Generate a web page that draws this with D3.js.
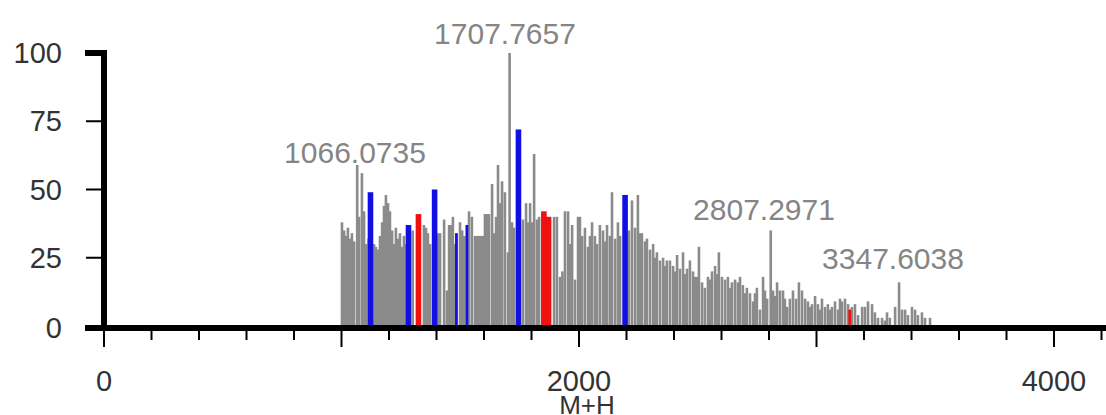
<!DOCTYPE html>
<html>
<head>
<meta charset="utf-8">
<script src="https://cdn.jsdelivr.net/npm/d3@7"></script>
<style>
  body { margin: 0; background: #fff; }
  svg { display: block; }
</style>
</head>
<body>
<div id="chart"></div>
<script>
var w = 1106;
var h = 415;

// gray peaks: m/z and relative intensity
var grayMz = [1002, 1011, 1019, 1027, 1036, 1044, 1053, 1066.07, 1074, 1086, 1095, 1103, 1114,
  1137, 1145, 1154, 1162, 1171, 1179, 1187, 1196, 1204, 1213, 1221, 1229, 1238, 1246, 1255, 1263, 1272,
  1300, 1347, 1356, 1364, 1373, 1406, 1415, 1432, 1444, 1453, 1461, 1469, 1478, 1499, 1508, 1517,
  1537, 1549, 1562, 1570, 1579, 1587, 1596, 1604, 1613, 1621, 1634, 1642, 1651, 1659, 1667, 1676,
  1688, 1701, 1707.77, 1718, 1726, 1764, 1777, 1785, 1794, 1802, 1811, 1823, 1832, 1895, 1907, 1920,
  1930, 1941, 1954, 1962, 1971, 1983, 1996, 2004, 2013, 2025, 2038, 2046, 2055, 2067, 2076, 2088,
  2101, 2109, 2118, 2130, 2139, 2152, 2164, 2173, 2210, 2223, 2236, 2248, 2257, 2265, 2278, 2286,
  2299, 2312, 2320, 2328, 2341, 2354, 2362, 2370, 2383, 2396, 2404, 2413, 2425, 2438, 2446, 2455,
  2467, 2480, 2488, 2497, 2505, 2518, 2530, 2543, 2552, 2560, 2573, 2581, 2589, 2602, 2615, 2627,
  2636, 2644, 2657, 2669, 2678, 2690, 2699, 2707, 2720, 2733, 2741, 2749, 2762, 2775, 2783, 2792,
  2807.30, 2817, 2825, 2834, 2846, 2859, 2867, 2876, 2888, 2901, 2914, 2926, 2939, 2952, 2964, 2973,
  2981, 2994, 3006, 3015, 3023, 3036, 3048, 3057, 3065, 3078, 3091, 3099, 3107, 3120, 3133, 3149,
  3162, 3175, 3192, 3204, 3217, 3234, 3246, 3259, 3276, 3288, 3297, 3309, 3331, 3347.60, 3360, 3373,
  3385, 3402, 3415, 3427, 3444, 3457, 3478];
var grayInt = [38, 35, 33, 36, 32, 34, 31, 59, 40, 56, 42, 30, 32,
  30, 29, 28, 33, 38, 44, 48, 45, 42, 35, 30, 36, 32, 34, 29, 33, 30,
  35, 37, 36, 34, 30, 34, 34, 39, 13, 37, 37, 40, 30, 38, 35, 33,
  42, 40, 33, 33, 33, 33, 33, 41, 41, 41, 52, 34, 40, 59, 45, 53,
  49, 27, 100, 38, 36, 39, 45, 38, 45, 38, 63, 39, 40, 40, 40, 18,
  20, 42, 42, 30, 37, 17, 40, 40, 33, 36, 29, 33, 38, 33, 30, 37,
  35, 31, 37, 33, 49, 32, 38, 33, 35, 46, 36, 48, 34, 34, 31, 32,
  28, 30, 25, 27, 24, 25, 22, 24, 24, 22, 20, 26, 21, 27, 19, 21,
  24, 20, 18, 18, 29, 16, 14, 18, 17, 20, 22, 19, 27, 18, 17, 18,
  14, 16, 17, 16, 18, 15, 12, 14, 12, 9, 12, 14, 6, 18, 13, 10,
  35, 13, 11, 16, 13, 13, 10, 7, 10, 13, 10, 16, 13, 10, 9, 7,
  8, 11, 8, 6, 10, 7, 8, 6, 7, 9, 6, 10, 9, 10, 8, 7,
  8, 4, 7, 7, 9, 8, 5, 3, 3, 2, 5, 3, 7, 16, 6, 6,
  4, 7, 6, 4, 5, 3, 3];

// matched peaks
var blueMz = [1122, 1282, 1392, 1484, 1528, 1745, 2194];
var blueInt = [49, 37, 50, 34, 37, 72, 48];
var blueWide = [true, true, true, false, false, true, true];
var redMz = [1324, 1852, 1872, 3140];
var redInt = [41, 42, 40, 6];
var redWide = [true, true, true, false];

var peakLabels = ['1066.0735', '1707.7657', '2807.2971', '3347.6038'];

var yTicks = [0, 25, 50, 75, 100];
var xMinor = d3.range(0, 4201, 200);
var xMajor = [0, 1000, 2000, 3000, 4000];
var xLabels = { 0: '0', 2000: '2000', 4000: '4000' };

var x = d3.scaleLinear().domain([0, 4000]).range([104, 1054]);
var y = d3.scaleLinear().domain([0, 100]).range([326, 53]);

var svg = d3.select('#chart')
  .append('svg')
  .attr('width', w)
  .attr('height', h)
  .style('font-family', '"Liberation Sans", Arial, sans-serif');

var grayData = grayMz.map(function (m, i) { return { mz: m, v: grayInt[i] }; });
var blueData = blueMz.map(function (m, i) { return { mz: m, v: blueInt[i], wide: blueWide[i] }; });
var redData = redMz.map(function (m, i) { return { mz: m, v: redInt[i], wide: redWide[i] }; });

svg.selectAll('rect.gray')
  .data(grayData)
  .enter()
  .append('rect')
  .attr('class', 'gray')
  .attr('x', function (d) { return x(d.mz) - 1.3; })
  .attr('width', 2.6)
  .attr('y', function (d) { return y(d.v); })
  .attr('height', function (d) { return y(0) - y(d.v); })
  .attr('fill', '#8b8b8b');

function colored(data, cls, color) {
  svg.selectAll('rect.' + cls)
    .data(data)
    .enter()
    .append('rect')
    .attr('class', cls)
    .attr('x', function (d) { return x(d.mz) - (d.wide ? 2.8 : 1.4); })
    .attr('width', function (d) { return d.wide ? 5.6 : 2.8; })
    .attr('y', function (d) { return y(d.v); })
    .attr('height', function (d) { return y(0) - y(d.v); })
    .attr('fill', color);
}
colored(blueData, 'blue', '#1010e6');
colored(redData, 'red', '#f01010');

// peak annotations
var labelPos = [[355, 163], [505, 44], [764, 220], [893, 269]];
svg.selectAll('text.peak')
  .data(peakLabels)
  .enter()
  .append('text')
  .attr('class', 'peak')
  .attr('x', function (d, i) { return labelPos[i][0]; })
  .attr('y', function (d, i) { return labelPos[i][1]; })
  .attr('text-anchor', 'middle')
  .attr('fill', '#858585')
  .style('font-size', '30px')
  .text(function (d) { return d; });

// x axis
var axisY = 328;
svg.append('line')
  .attr('x1', 85).attr('x2', w)
  .attr('y1', axisY).attr('y2', axisY)
  .attr('stroke', '#000').attr('stroke-width', 6);

svg.selectAll('line.xminor')
  .data(xMinor)
  .enter()
  .append('line')
  .attr('class', 'xminor')
  .attr('x1', function (d) { return x(d); })
  .attr('x2', function (d) { return x(d); })
  .attr('y1', axisY)
  .attr('y2', function (d) { return xMajor.indexOf(d) >= 0 ? 347 : 340; })
  .attr('stroke', '#000')
  .attr('stroke-width', 2);

svg.selectAll('text.xlab')
  .data(xMajor.filter(function (d) { return xLabels[d] !== undefined; }))
  .enter()
  .append('text')
  .attr('class', 'xlab')
  .attr('x', function (d) { return x(d); })
  .attr('y', 391)
  .attr('text-anchor', 'middle')
  .attr('fill', '#333')
  .style('font-size', '29px')
  .text(function (d) { return xLabels[d]; });

svg.append('text')
  .attr('x', 587)
  .attr('y', 414)
  .attr('text-anchor', 'middle')
  .attr('fill', '#333')
  .style('font-size', '26px')
  .text('M+H');

// y axis
svg.append('line')
  .attr('x1', 104).attr('x2', 104)
  .attr('y1', y(100) - 3).attr('y2', axisY + 3)
  .attr('stroke', '#000').attr('stroke-width', 6);

svg.append('line')
  .attr('x1', 85).attr('x2', 107)
  .attr('y1', y(100)).attr('y2', y(100))
  .attr('stroke', '#000').attr('stroke-width', 6);

svg.selectAll('line.ytick')
  .data(yTicks.filter(function (d) { return d > 0 && d < 100; }))
  .enter()
  .append('line')
  .attr('class', 'ytick')
  .attr('x1', 86).attr('x2', 104)
  .attr('y1', function (d) { return y(d); })
  .attr('y2', function (d) { return y(d); })
  .attr('stroke', '#000')
  .attr('stroke-width', 2);

svg.selectAll('text.ylab')
  .data(yTicks)
  .enter()
  .append('text')
  .attr('class', 'ylab')
  .attr('x', 62)
  .attr('y', function (d) { return (d === 0 ? axisY : y(d)) + 10; })
  .attr('text-anchor', 'end')
  .attr('fill', '#333')
  .style('font-size', '29px')
  .text(function (d) { return d; });
</script>
</body>
</html>
